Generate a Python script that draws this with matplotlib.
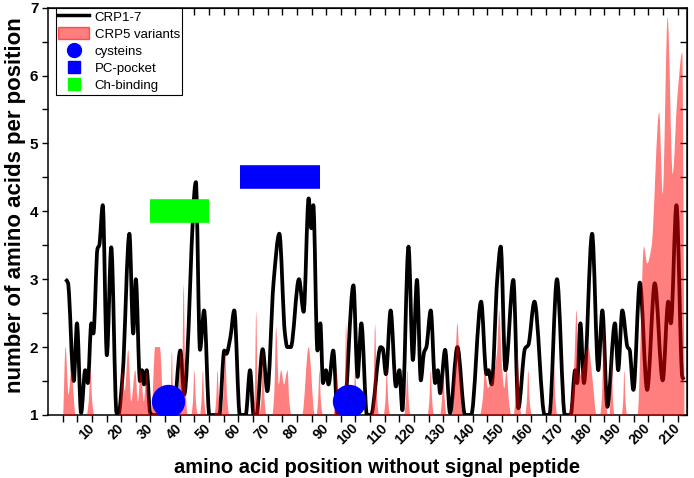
import numpy as np
import matplotlib
matplotlib.use("Agg")
import matplotlib.pyplot as plt
import matplotlib.transforms as mtransforms
from matplotlib.path import Path
from matplotlib.patches import PathPatch, Patch
from matplotlib.lines import Line2D

plt.rcParams['font.family'] = ['Liberation Sans', 'DejaVu Sans']

# CRP1-7 (black line): position / amino acids per position
crp17_pos = [1.0, 1.8, 3.8, 4.9, 6.3, 7.7, 8.6, 9.8, 10.5, 11.9, 12.5, 13.7, 15.1, 16.6,
             18.4, 19.0, 20.5, 22.8, 24.1, 25.0, 26.4, 27.1, 27.8, 28.7, 29.9, 31.0,
             37.8, 40.2, 41.5, 45.5, 46.9, 48.3, 50.1, 53.5, 55.2, 55.9, 57.3, 58.6,
             60.5, 62.5, 64.0, 65.2, 66.2, 68.3, 69.9, 72.0, 74.0, 75.9, 76.7, 77.9,
             80.7, 82.3, 84.0, 84.9, 85.6, 87.0, 88.0, 88.9, 89.9, 90.8, 92.4, 93.9,
             96.0, 99.3, 100.7, 102.0, 103.9, 105.3, 108.6, 109.3, 110.4, 112.0, 113.8,
             115.0, 116.0, 118.1, 119.6, 121.0, 122.3, 123.4, 124.2, 125.7, 127.2, 128.1,
             128.9, 130.6, 132.3, 134.8, 137.4, 139.5, 142.9, 144.7, 145.4, 146.5, 148.4,
             149.6, 151.2, 153.9, 155.6, 157.9, 159.0, 161.1, 164.6, 166.2, 168.8, 171.5,
             173.5, 175.0, 175.7, 176.8, 178.0, 180.8, 182.9, 184.3, 186.0, 188.6,
             189.7, 191.1, 192.9, 193.6, 194.9, 197.1, 199.6, 202.2, 204.9, 206.8, 207.7,
             209.6, 211.6, 212.2]
crp17_val = [3.0, 2.95, 1.5, 2.35, 1.03, 1.66, 1.47, 2.35, 2.2, 3.45, 3.5, 4.09, 1.88, 3.47,
             1.03, 1.0, 1.6, 3.67, 2.2, 3.0, 1.5, 1.66, 1.45, 1.66, 1.03, 1.0,
             1.0, 1.95, 1.3, 4.43, 1.96, 2.54, 1.0, 1.0, 1.95, 1.9, 2.15, 2.54,
             1.0, 1.0, 1.66, 1.0, 1.0, 1.97, 1.35, 2.94, 3.67, 2.2, 2.0, 2.0,
             3.0, 2.52, 4.19, 3.75, 4.09, 1.95, 2.35, 1.47, 1.66, 1.45, 1.95, 1.0,
             1.0, 2.91, 1.56, 2.35, 1.0, 1.0, 2.0, 1.98, 1.6, 2.54, 1.42,
             1.66, 1.07, 3.48, 1.81, 2.99, 1.51, 1.92, 2.0, 2.54, 1.47, 1.66,
             1.32, 1.96, 1.03, 2.0, 1.0, 1.0, 2.67, 1.6, 1.66, 1.45, 3.0,
             3.48, 1.66, 2.99, 1.1, 1.98, 2.03, 2.67, 1.0, 1.0, 3.0, 1.0,
             1.0, 1.66, 1.47, 2.35, 1.47, 3.67, 1.66, 2.54, 1.12, 2.35,
             1.66, 2.54, 2.0, 1.96, 1.37, 2.95, 1.37, 2.94, 1.51, 2.67, 2.35,
             4.09, 1.56, 1.52]

# CRP5 variants (red area)
crp5_pos = [0.2, 1.0, 2.0, 3.0, 4.4,
            8.2, 8.9, 9.5, 10.1, 10.8,
            19.1, 19.8, 20.3, 21.2, 22.4, 23.4, 24.8, 25.7, 26.7, 27.7, 28.8, 29.4, 30.0,
            30.3, 31.6, 33.2, 34.6,
            36.5, 36.9, 37.3, 37.7, 38.2,
            39.0, 39.6, 40.2, 40.8, 41.3, 41.9, 42.7,
            43.9, 44.5, 45.0, 45.5, 46.1,
            46.9, 47.4, 47.9, 48.4, 49.1,
            51.8, 52.4, 52.9, 53.4, 54.0,
            54.2, 54.9, 55.5, 56.1, 56.9,
            64.9, 65.6, 66.1, 66.6, 67.3, 67.9, 68.4, 68.9, 69.6,
            71.6, 72.3, 72.9, 73.8, 74.6, 75.6, 76.8, 77.4, 78.1,
            81.8, 84.0, 86.1,
            86.7, 87.2, 87.7, 88.2, 88.9,
            92.4, 93.1, 93.6, 94.1, 94.8,
            95.6, 96.3, 96.8, 97.3, 98.0,
            98.8, 99.4, 99.9, 100.4, 101.0,
            105.4, 106.1, 106.7, 107.3, 108.0,
            109.6, 110.2, 110.7, 111.2, 111.8,
            116.6, 117.2, 117.7, 118.2, 118.8,
            124.6, 125.2, 125.7, 126.2, 126.8,
            128.9, 129.5, 130.0, 130.5, 131.1,
            133.0, 134.2, 134.8, 135.4, 136.6,
            142.5, 143.5, 144.2, 145.2, 146.5, 148.3, 149.1, 149.9, 150.8, 151.6, 152.4, 153.2,
            154.0, 154.7, 155.3, 155.9, 156.7,
            157.9, 158.5, 159.0, 159.5, 160.2,
            166.7, 167.3, 167.8, 168.3, 168.9,
            172.7, 173.9, 174.6, 175.5, 176.3, 177.5, 179.5, 181.0, 182.3,
            183.5, 184.2, 184.8, 185.4, 186.2,
            186.7, 187.1, 187.5, 187.9, 188.4,
            190.9, 191.4, 191.8, 192.2, 192.8,
            196.3, 198.5, 199.6, 201.1, 203.7, 204.9, 206.6, 208.3, 209.9, 211.6, 212.3]
crp5_val = [1.0, 2.0, 1.3, 1.66, 1.0,
            1.0, 1.2, 1.66, 1.2, 1.0,
            1.0, 1.25, 1.66, 1.35, 1.96, 1.2, 1.66, 1.2, 1.66, 1.2, 1.66, 1.2, 1.0,
            1.0, 2.0, 2.0, 1.0,
            1.0, 1.25, 1.95, 1.25, 1.0,
            1.0, 1.3, 1.95, 1.5, 2.94, 1.5, 1.0,
            1.0, 1.2, 1.66, 1.2, 1.0,
            1.0, 1.2, 1.66, 1.2, 1.0,
            1.0, 1.2, 1.66, 1.2, 1.0,
            1.0, 1.3, 1.96, 1.3, 1.0,
            1.0, 1.35, 2.54, 1.35, 1.05, 1.25, 1.95, 1.25, 1.0,
            1.0, 1.35, 2.3, 1.45, 1.66, 1.45, 1.66, 1.2, 1.0,
            1.0, 2.0, 1.0,
            1.0, 1.2, 1.66, 1.2, 1.0,
            1.0, 1.2, 1.66, 1.2, 1.0,
            1.0, 1.3, 2.35, 1.3, 1.0,
            1.0, 1.2, 1.66, 1.2, 1.0,
            1.0, 1.3, 2.35, 1.3, 1.0,
            1.0, 1.2, 1.66, 1.2, 1.0,
            1.0, 1.2, 1.66, 1.2, 1.0,
            1.0, 1.2, 1.66, 1.2, 1.0,
            1.0, 1.2, 1.66, 1.2, 1.0,
            1.0, 1.9, 2.35, 1.9, 1.0,
            1.0, 1.25, 1.66, 1.4, 1.5, 1.9, 2.54, 1.8, 1.4, 1.66, 1.2, 1.0,
            1.0, 1.3, 1.96, 1.3, 1.0,
            1.0, 1.2, 1.66, 1.2, 1.0,
            1.0, 1.2, 1.66, 1.2, 1.0,
            1.0, 1.3, 1.66, 2.54, 1.55, 1.7, 2.0, 1.5, 1.0,
            1.0, 1.3, 2.32, 1.3, 1.0,
            1.0, 1.25, 1.95, 1.25, 1.0,
            1.0, 1.2, 1.66, 1.2, 1.0,
            1.0, 3.48, 3.23, 3.48, 5.46, 4.26, 6.86, 4.55, 5.68, 6.34, 1.5]

cys_pos = [35.9, 97.9]
cys_val = [1.2, 1.2]
pc_pocket = [60.6, 88.0]
pc_level = 4.5
ch_binding = [29.9, 50.0]
ch_level = 4.0

xticks_major = list(range(10, 211, 10))
xticks_minor = list(range(0, 211, 5))


def smooth_path(xs, ys, close_to=None):
    # monotone cubic (Fritsch-Carlson) segments drawn as Bezier curves
    xs = np.asarray(xs, float)
    ys = np.asarray(ys, float)
    h = np.diff(xs)
    d = np.diff(ys) / h
    m = np.zeros(len(xs))
    m[0], m[-1] = d[0], d[-1]
    for k in range(1, len(xs) - 1):
        if d[k - 1] * d[k] > 0:
            w1 = 2 * h[k] + h[k - 1]
            w2 = h[k] + 2 * h[k - 1]
            m[k] = (w1 + w2) / (w1 / d[k - 1] + w2 / d[k])
    verts = [(xs[0], ys[0])]
    codes = [Path.MOVETO]
    for k in range(len(h)):
        verts += [(xs[k] + h[k] / 3, ys[k] + m[k] * h[k] / 3),
                  (xs[k + 1] - h[k] / 3, ys[k + 1] - m[k + 1] * h[k] / 3),
                  (xs[k + 1], ys[k + 1])]
        codes += [Path.CURVE4] * 3
    if close_to is not None:
        verts += [(xs[-1], close_to), (xs[0], close_to), (xs[0], ys[0])]
        codes += [Path.LINETO, Path.LINETO, Path.CLOSEPOLY]
    return Path(verts, codes)


fig = plt.figure(figsize=(6.94, 4.78), dpi=100)
ax = fig.add_axes([48 / 694, 63 / 478, 639 / 694, 407.4 / 478])

red = (1, 0, 0, 0.5)
ax.add_patch(PathPatch(smooth_path(crp17_pos, crp17_val), fill=False,
                       edgecolor='black', lw=2.7, joinstyle='round', zorder=2))
ax.add_patch(PathPatch(smooth_path(crp5_pos, crp5_val, close_to=0), facecolor=red,
                       edgecolor='none', lw=0, zorder=3))

ax.plot(ch_binding, [ch_level] * 2, color='#00ff00', lw=17, solid_capstyle='butt', zorder=4)
ax.plot(pc_pocket, [pc_level] * 2, color='#0000ff', lw=17, solid_capstyle='butt', zorder=4)
ax.plot(cys_pos, cys_val, 'o', color='#0000ff', ms=24, mec='none', zorder=5)

ax.set_xlim(-5, 213.2)
ax.set_ylim(1, 7)

ax.set_xticks(xticks_major)
ax.set_xticks(xticks_minor, minor=True)
ax.set_xticklabels([str(t) for t in xticks_major], rotation=45, ha='right',
                   va='center', rotation_mode='anchor', fontweight='bold', fontsize=10)
shift = mtransforms.ScaledTranslation(4 / 100, 0, fig.dpi_scale_trans)
for lab in ax.get_xticklabels():
    lab.set_transform(lab.get_transform() + shift)
ax.set_yticks(range(1, 8))
ax.set_yticks(np.arange(1, 7.01, 0.5), minor=True)
ax.set_yticklabels([str(t) for t in range(1, 8)], fontweight='bold', fontsize=11)
ax.tick_params(which='both', direction='out', length=4, width=1, pad=3)
ax.tick_params(axis='x', which='both', length=5)
for sp in ax.spines.values():
    sp.set_linewidth(1.1)

top = ax.secondary_xaxis('top')
top.set_xticks(xticks_major)
top.set_xticks(xticks_minor, minor=True)
top.tick_params(which='both', direction='in', length=5, width=1, labeltop=False)
right = ax.secondary_yaxis('right')
right.set_yticks(range(1, 8))
right.set_yticks(np.arange(1, 7.01, 0.5), minor=True)
right.tick_params(which='both', direction='in', length=5, width=1, labelright=False)

ax.set_xlabel('amino acid position without signal peptide', fontsize=14.5, fontweight='bold')
ax.set_ylabel('number of amino acids per position', fontsize=16, fontweight='bold')
ax.xaxis.set_label_coords(0.515, -0.105)
ax.yaxis.set_label_coords(-0.034, 0.515)

handles = [Line2D([], [], color='black', lw=2.5),
           Patch(facecolor=red, edgecolor=(1, 0, 0, 0.6)),
           Line2D([], [], marker='o', ls='none', color='#0000ff', ms=10),
           Line2D([], [], marker='s', ls='none', color='#0000ff', ms=9),
           Line2D([], [], marker='s', ls='none', color='#00ff00', ms=9)]
labels = ['CRP1-7', 'CRP5 variants', 'cysteins', 'PC-pocket', 'Ch-binding']
leg = ax.legend(handles, labels, loc='upper left', bbox_to_anchor=(0.012, 1.0),
                borderaxespad=0, fontsize=9.5, fancybox=False, framealpha=1,
                edgecolor='black', handlelength=2.35, handleheight=1.0,
                handletextpad=0.4, labelspacing=0.28, borderpad=0.2)
leg.get_frame().set_linewidth(0.8)

fig.savefig('out.png', dpi=100)
